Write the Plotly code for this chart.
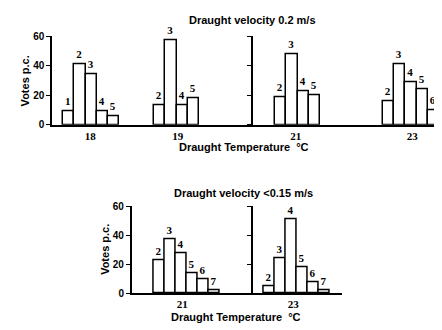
import plotly.graph_objects as go

# ---------------- data ----------------
# Draught velocity 0.2 m/s
v02_t18_scale = [1, 2, 3, 4, 5]
v02_t18_votes = [9, 41, 34, 9, 6]
v02_t19_scale = [2, 3, 4, 5]
v02_t19_votes = [13, 57, 13, 18]
v02_t21_scale = [2, 3, 4, 5]
v02_t21_votes = [19, 48, 23, 20]
v02_t23_scale = [2, 3, 4, 5, 6]
v02_t23_votes = [16, 41, 29, 24, 10]
# Draught velocity < 0.15 m/s
v015_t21_scale = [2, 3, 4, 5, 6, 7]
v015_t21_votes = [23, 37, 28, 14, 10, 2]
v015_t23_scale = [2, 3, 4, 5, 6, 7]
v015_t23_votes = [5, 24, 51, 18, 8, 2]

y_tick_values = [0, 20, 40, 60]
title_top = "Draught velocity 0.2 m/s"
title_bottom = "Draught velocity <0.15 m/s"
x_title = "Draught Temperature  °C"
y_title = "Votes p.c."

# ---------------- layout ----------------
# The page body has an 8px default margin, so the figure is drawn 8px smaller
# and every reference pixel position is shifted by that offset.
OFF = 8
W, H = 442 - OFF, 330 - OFF


def px(x):
    return (x - OFF) / W


def py(y):
    return 1 - (y - OFF) / H


panels = [
    # (axis suffix, x-domain px, y-domain px (bottom, top), x range,
    #  groups: (label, scale, votes, group centre, label position))
    ("", (52, 253), (123, 31), 17.9,
     [("18", v02_t18_scale, v02_t18_votes, 3.5, 3.4),
      ("19", v02_t19_scale, v02_t19_votes, 11.1, 11.2)]),
    ("2", (253, 440), (123, 31), 16.8,
     [("21", v02_t21_scale, v02_t21_votes, 4.0, 3.85),
      ("23", v02_t23_scale, v02_t23_votes, 14.2, 14.3)]),
    ("3", (131.7, 252.7), (298.3, 207.7), 11.0,
     [("21", v015_t21_scale, v015_t21_votes, 5.0, 4.6)]),
    ("4", (252.7, 341.7), (298.3, 207.7), 8.1,
     [("23", v015_t23_scale, v015_t23_votes, 4.0, 3.7)]),
]

fig = go.Figure()
bold_sans = dict(family="Liberation Sans", size=10, color="black", weight="bold")
title_font = dict(family="Liberation Sans", size=11, color="black", weight="bold")
serif_num = dict(family="Liberation Serif", size=11, color="black", weight="bold")

layout_axes = {}
for idx, (suf, (x0, x1), (yb, yt), xr, groups) in enumerate(panels):
    tickvals, ticktext = [], []
    for label, scale, votes, center, label_pos in groups:
        n = len(scale)
        xs = [center + i - (n - 1) / 2 for i in range(n)]
        fig.add_trace(go.Bar(
            x=xs, y=votes, width=1,
            text=[str(s) for s in scale], textposition="outside",
            textfont=serif_num, constraintext="none", cliponaxis=False,
            marker=dict(color="white", line=dict(color="black", width=1.5)),
            xaxis="x" + suf, yaxis="y" + suf, showlegend=False,
        ))
        tickvals.append(label_pos)
        ticktext.append(label)
    left_axis = idx in (0, 2)
    layout_axes["xaxis" + suf] = dict(
        domain=[px(x0), px(x1)], anchor="y" + suf, range=[0, xr],
        showline=True, linecolor="black", linewidth=1.5, showgrid=False,
        zeroline=False, ticks="", tickvals=tickvals, ticktext=ticktext,
        tickfont=serif_num, fixedrange=True,
    )
    layout_axes["yaxis" + suf] = dict(
        domain=[py(yb), py(yt)], anchor="x" + suf, range=[0, 60],
        showline=True, linecolor="black", linewidth=1.5, showgrid=False,
        zeroline=False, ticks="outside", ticklen=4, tickwidth=1.2,
        tickcolor="black", tickvals=y_tick_values,
        showticklabels=left_axis, tickfont=bold_sans, fixedrange=True,
    )

annotations = [
    dict(text=title_top, x=px(252.5), y=py(14)),
    dict(text=title_bottom, x=px(243), y=py(194)),
    dict(text=x_title, x=px(244), y=py(146)),
    dict(text=x_title, x=px(236), y=py(323)),
    dict(text=y_title, x=px(25), y=py(78), textangle=-90),
    dict(text=y_title, x=px(105), y=py(253), textangle=-90),
]
for a in annotations:
    a.update(xref="paper", yref="paper", xanchor="center", yanchor="middle",
             showarrow=False, font=title_font)

fig.update_layout(
    width=W, height=H, margin=dict(l=0, r=0, t=0, b=0),
    paper_bgcolor="white", plot_bgcolor="white",
    bargap=0, annotations=annotations, **layout_axes,
)

fig.write_html("out.html")
